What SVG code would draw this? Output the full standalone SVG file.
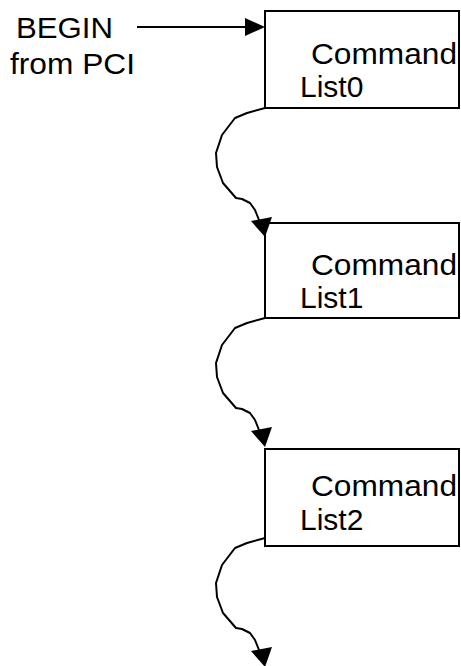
<svg xmlns="http://www.w3.org/2000/svg" width="461" height="666" viewBox="0 0 461 666">
  <style>
    .box { fill: #fff; stroke: #000; stroke-width: 2; }
    .lbl { font-family: "Liberation Sans", Arial, sans-serif; font-size: 30px; fill: #000; }
    .link { fill: none; stroke: #000; stroke-width: 2; stroke-linejoin: round; }
    .head { fill: #000; stroke: none; }
  </style>
  <defs>
    <!-- looping connector from a box's lower-left corner down to the next box -->
    <g id="loop">
      <polyline class="link" points="265,108 247,113 235,118 222,135 216,153 217,167 223,183 236,198 242,199 250,203 255,210 259,220"/>
      <polygon class="head" points="251,221 272,217 265,237"/>
    </g>
  </defs>

  <rect width="461" height="666" fill="#fff"/>

  <g id="begin">
    <text class="lbl" x="16" y="38" font-size="29" textLength="97" lengthAdjust="spacingAndGlyphs">BEGIN</text>
    <text class="lbl" x="10" y="74" font-size="29" textLength="125" lengthAdjust="spacingAndGlyphs">from PCI</text>
  </g>

  <g id="list0">
    <rect class="box" x="265" y="11" width="194" height="97"/>
    <text class="lbl" x="311" y="64" textLength="146" lengthAdjust="spacingAndGlyphs">Command</text>
    <text class="lbl" x="300" y="97">List0</text>
  </g>

  <g id="list1">
    <rect class="box" x="265" y="223" width="194" height="95"/>
    <text class="lbl" x="311" y="275" textLength="146" lengthAdjust="spacingAndGlyphs">Command</text>
    <text class="lbl" x="300" y="308">List1</text>
  </g>

  <g id="list2">
    <rect class="box" x="265" y="449" width="194" height="97"/>
    <text class="lbl" x="311" y="496" textLength="146" lengthAdjust="spacingAndGlyphs">Command</text>
    <text class="lbl" x="300" y="530">List2</text>
  </g>

  <g id="connectors">
    <line class="link" x1="137" y1="27" x2="247" y2="27"/>
    <polygon class="head" points="245,18 245,36 265,27"/>
    <use href="#loop"/>
    <use href="#loop" transform="translate(0,210)"/>
    <use href="#loop" transform="translate(0,430)"/>
  </g>
</svg>
